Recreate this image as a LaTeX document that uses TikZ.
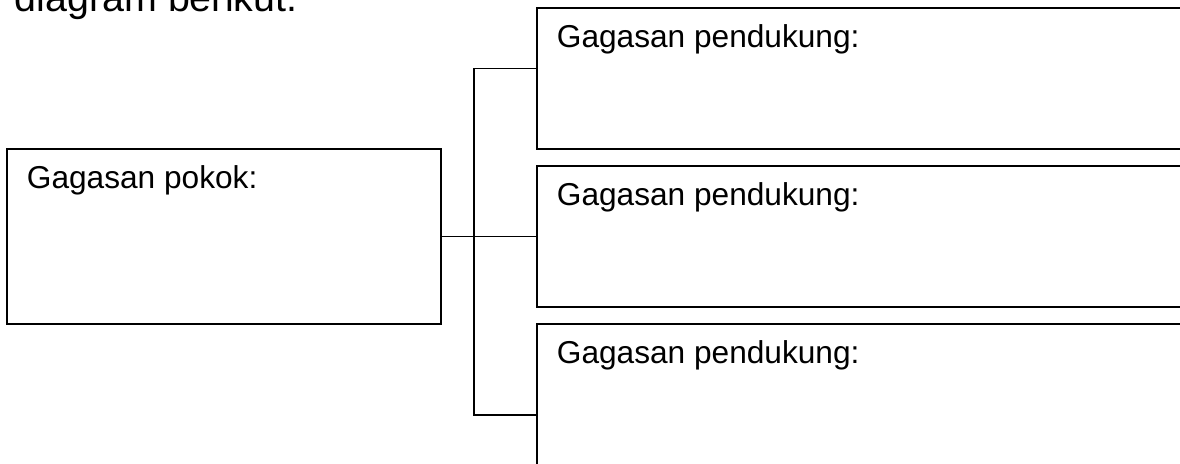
\documentclass[tikz,border=0pt]{standalone}
\usepackage{fontspec}
\setmainfont{Liberation Sans}
\usetikzlibrary{calc}

\tikzset{
  box/.style={draw, line width=1.4pt, inner sep=0pt},
  boxtext/.style={anchor=base west, inner sep=0pt, font=\fontsize{22.5}{27}\selectfont},
}

\begin{document}
\begin{tikzpicture}[x=0.025cm,y=-0.025cm,line width=1.4pt]
            \useasboundingbox (0,0) rectangle (1180,463);
            \clip (0,0) rectangle (1180,463);
            \node[anchor=base west, inner sep=0pt, font=\fontsize{28}{34}\selectfont] (intro) at (14,11) {diagram berikut.};
            \node[box, minimum width=10.85cm, minimum height=4.375cm] (pokok) at (224,236.5) {};
            \node[box, minimum width=16.325cm, minimum height=3.525cm] (dukung1) at (863.5,78.5) {};
            \node[box, minimum width=16.325cm, minimum height=3.525cm] (dukung2) at (863.5,236.5) {};
            \node[box, minimum width=16.325cm, minimum height=3.525cm] (dukung3) at (863.5,394.5) {};
            \node[boxtext] (tpokok) at ($(pokok.north west)+(20,40)$) {Gagasan pokok:};
            \node[boxtext] (tdukung1) at ($(dukung1.north west)+(20,40)$) {Gagasan pendukung:};
            \node[boxtext] (tdukung2) at ($(dukung2.north west)+(20,40)$) {Gagasan pendukung:};
            \node[boxtext] (tdukung3) at ($(dukung3.north west)+(20,40)$) {Gagasan pendukung:};
            \coordinate (spine) at (474,0);
            \coordinate (b1) at ($(dukung1.north west)!0.43!(dukung1.south west)$);
            \coordinate (b3) at ($(dukung3.north west)!0.64!(dukung3.south west)$);
            \draw (pokok.east) -- (dukung2.west);
            \draw (b1) -- (b1 -| spine) -- (b3 -| spine) -- (b3);
        \end{tikzpicture}
\end{document}
